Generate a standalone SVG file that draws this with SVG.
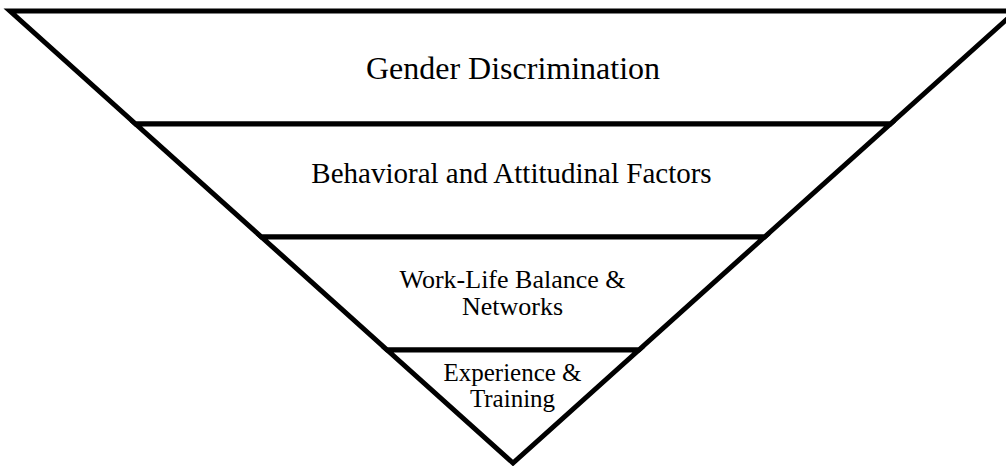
<svg xmlns="http://www.w3.org/2000/svg" width="1006" height="466" viewBox="0 0 1006 466">
<style>
.layer{fill:#fff;stroke:#000;stroke-width:5;stroke-linejoin:miter}
.lbl{font-family:"Liberation Serif","Times New Roman",serif;fill:#000;text-anchor:middle}
</style>
<rect width="1006" height="466" fill="#fff"/>
<g id="layer1">
<polygon class="layer" points="10,11 1016,11 890.3,124 135.7,124"/>
<text class="lbl" x="513" y="79" font-size="32">Gender Discrimination</text>
</g>
<g id="layer2">
<polygon class="layer" points="135.7,124 890.3,124 764.5,237 261.5,237"/>
<text class="lbl" x="511.5" y="183" font-size="29">Behavioral and Attitudinal Factors</text>
</g>
<g id="layer3">
<polygon class="layer" points="261.5,237 764.5,237 638.8,350 387.2,350"/>
<text class="lbl" x="512.5" y="287.5" font-size="26">Work-Life Balance &amp;</text>
<text class="lbl" x="512.5" y="315" font-size="26">Networks</text>
</g>
<g id="layer4">
<polygon class="layer" points="387.2,350 638.8,350 513,463"/>
<text class="lbl" x="512.5" y="381" font-size="25">Experience &amp;</text>
<text class="lbl" x="512.5" y="407" font-size="25">Training</text>
</g>
<g id="connectors"/>
</svg>
